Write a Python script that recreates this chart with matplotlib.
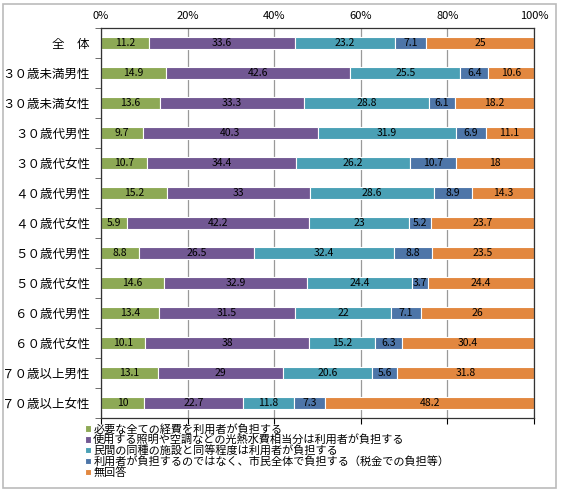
import matplotlib.pyplot as plt
from matplotlib.patches import Rectangle

plt.rcParams['font.family'] = ['Noto Sans CJK JP', 'DejaVu Sans']

categories = ['全　体', '３０歳未満男性', '３０歳未満女性', '３０歳代男性', '３０歳代女性',
              '４０歳代男性', '４０歳代女性', '５０歳代男性', '５０歳代女性',
              '６０歳代男性', '６０歳代女性', '７０歳以上男性', '７０歳以上女性']
s1 = [11.2, 14.9, 13.6, 9.7, 10.7, 15.2, 5.9, 8.8, 14.6, 13.4, 10.1, 13.1, 10]
s2 = [33.6, 42.6, 33.3, 40.3, 34.4, 33, 42.2, 26.5, 32.9, 31.5, 38, 29, 22.7]
s3 = [23.2, 25.5, 28.8, 31.9, 26.2, 28.6, 23, 32.4, 24.4, 22, 15.2, 20.6, 11.8]
s4 = [7.1, 6.4, 6.1, 6.9, 10.7, 8.9, 5.2, 8.8, 3.7, 7.1, 6.3, 5.6, 7.3]
s5 = [25, 10.6, 18.2, 11.1, 18, 14.3, 23.7, 23.5, 24.4, 26, 30.4, 31.8, 48.2]
series = [s1, s2, s3, s4, s5]
labels = ['必要な全ての経費を利用者が負担する',
          '使用する照明や空調などの光熱水費相当分は利用者が負担する',
          '民間の同種の施設と同等程度は利用者が負担する',
          '利用者が負担するのではなく、市民全体で負担する（税金での負担等）',
          '無回答']
colors = ['#8da955', '#725893', '#4aa0b5', '#4d75a8', '#e2873f']

fig = plt.figure(figsize=(5.62, 4.93), dpi=100)
ax = fig.add_axes([0.1797, 0.152, 0.7705, 0.791])

y = list(range(len(categories)))
left = [0] * len(categories)
for vals, col, lab in zip(series, colors, labels):
    ax.barh(y, vals, left=left, height=0.42, color=col, edgecolor='white',
            linewidth=0.8, label=lab)
    for i, v in enumerate(vals):
        ax.text(left[i] + v / 2, i, str(v), ha='center', va='center',
                fontsize=7.5, color='black')
    left = [a + b for a, b in zip(left, vals)]

ax.set_xlim(0, 100)
ax.set_ylim(len(categories) - 0.5, -0.5)
ax.set_xticks([0, 20, 40, 60, 80, 100])
ax.set_xticklabels(['0%', '20%', '40%', '60%', '80%', '100%'], fontsize=8)
ax.xaxis.set_ticks_position('bottom')
ax.tick_params(axis='x', which='major', labeltop=True, labelbottom=False,
               top=False, bottom=True, length=4, direction='out', pad=1)
ax.set_yticks(y)
ax.set_yticklabels(categories, fontsize=9)
ax.set_yticks([i + 0.5 for i in range(-1, len(categories))], minor=True)
ax.tick_params(axis='y', which='major', length=0, pad=8)
ax.tick_params(axis='y', which='minor', length=4, direction='out', color='#555555')
ax.grid(axis='x', color='#999999', linewidth=0.9)
ax.set_axisbelow(True)
for sp in ax.spines.values():
    sp.set_color('#333333')
    sp.set_linewidth(0.9)

fig.legend(loc='upper left', bbox_to_anchor=(0.152, 0.141), frameon=False,
           fontsize=8, handlelength=0.5, handleheight=0.5, handletextpad=0.2,
           labelspacing=0.0, borderpad=0, borderaxespad=0)

fig.patches.append(Rectangle((0.005, 0.01), 0.985, 0.982, transform=fig.transFigure,
                             fill=False, edgecolor='#bbbbbb', linewidth=1.2))

fig.savefig('out.png', dpi=100)
